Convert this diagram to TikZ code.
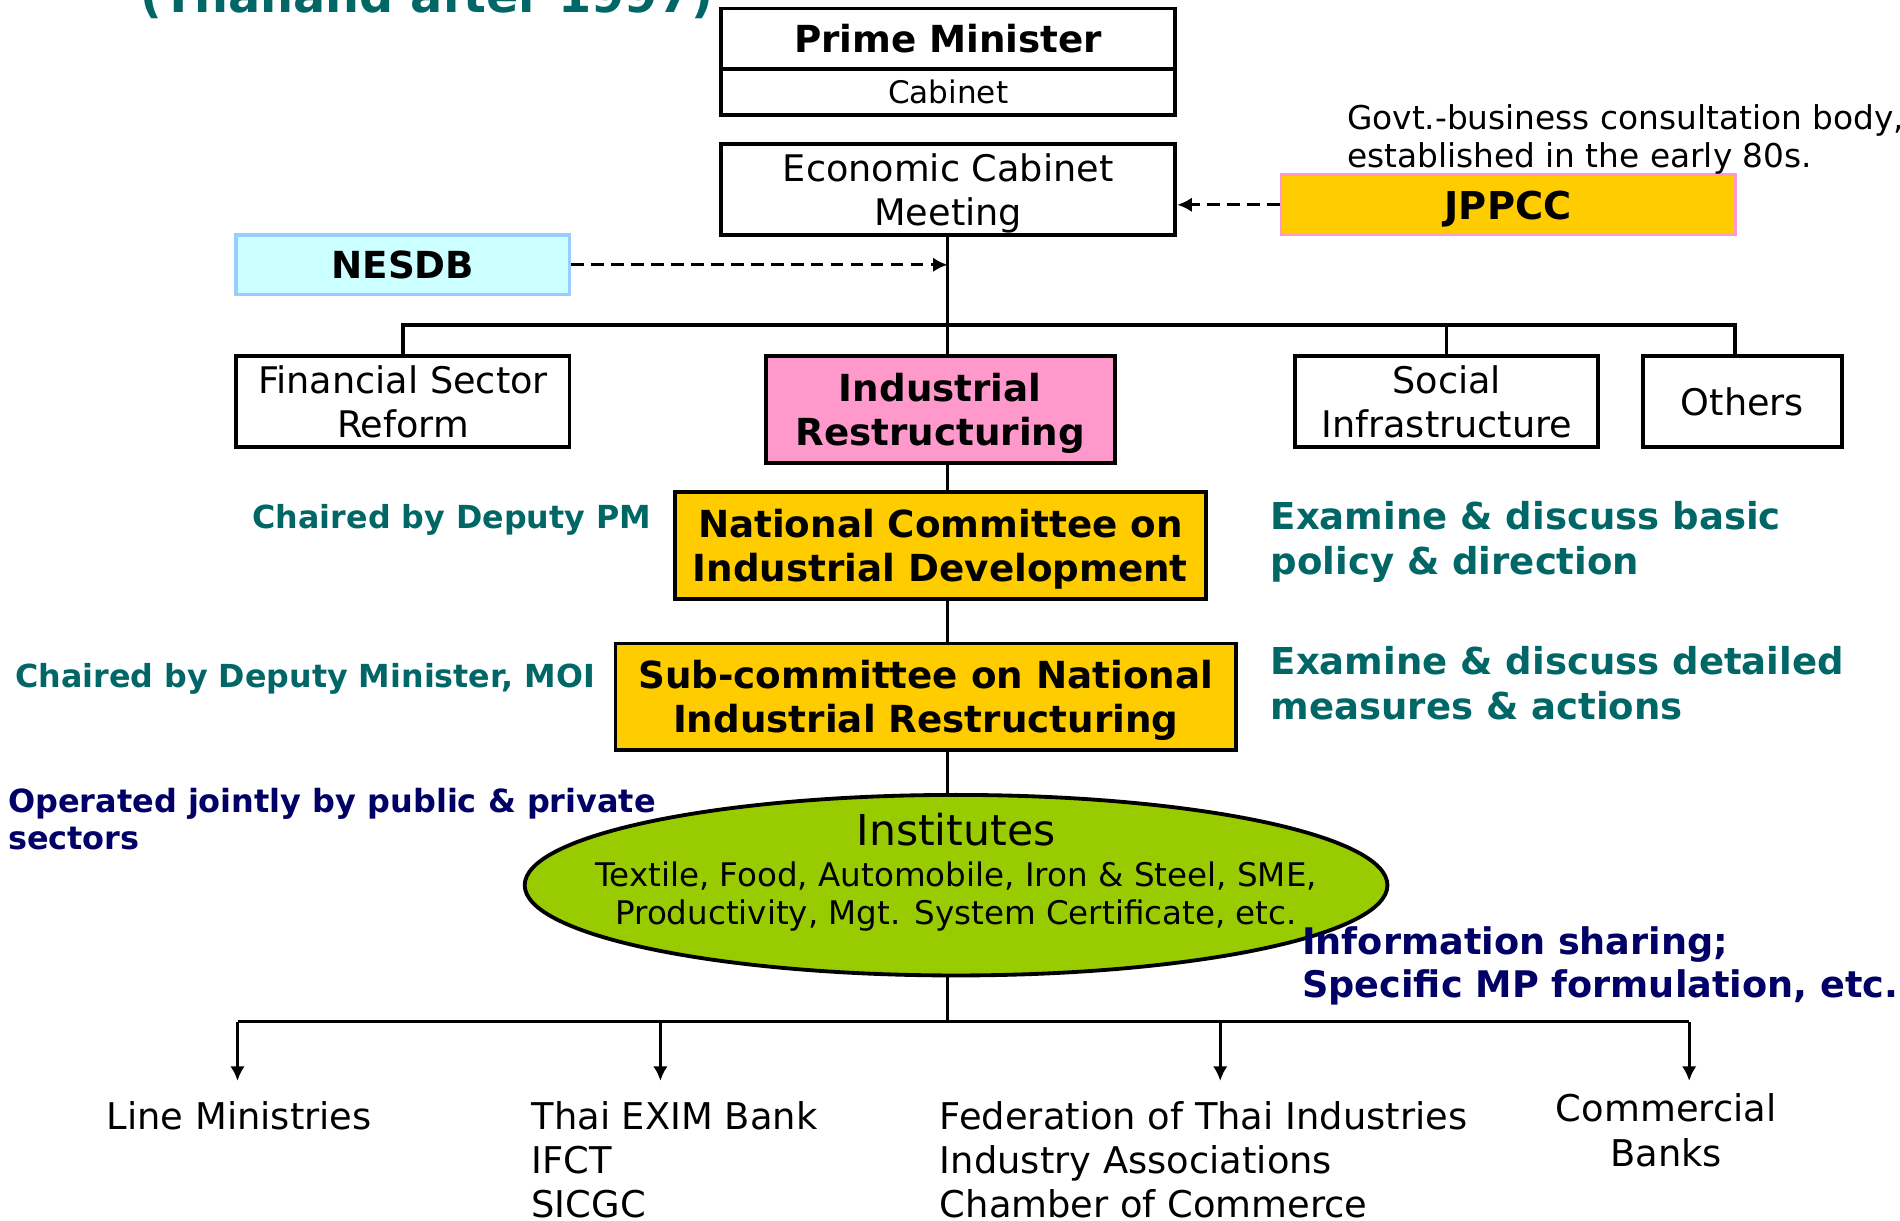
\documentclass[tikz,border=0pt]{standalone}
\usepackage{fontspec}
\setmainfont{DejaVu Sans}
\usetikzlibrary{shapes.geometric,arrows.meta}

\definecolor{labelteal}{RGB}{0,102,102}
\definecolor{labelnavy}{RGB}{0,0,102}
\definecolor{boxyellow}{RGB}{255,204,0}
\definecolor{boxpink}{RGB}{255,153,204}
\definecolor{nesdbcyan}{RGB}{204,255,255}
\definecolor{nesdbblue}{RGB}{153,204,255}
\definecolor{instgreen}{RGB}{153,204,0}

\begin{document}
\begin{tikzpicture}[
  box/.style={draw, line width=0.9pt, align=center, inner sep=0pt, text depth=0pt, font=\fontsize{8.6}{10.5}\selectfont},
  boldbox/.style={box, font=\fontsize{8.75}{10.3}\selectfont\bfseries},
  teallabel/.style={inner sep=0pt, align=left, text=labelteal, font=\fontsize{8.7}{10.5}\selectfont\bfseries},
  chairlabel/.style={inner sep=0pt, align=left, text=labelteal, font=\fontsize{7.45}{9}\selectfont\bfseries},
  navylabel/.style={inner sep=0pt, align=left, text=labelnavy, font=\fontsize{7.5}{8.8}\selectfont\bfseries},
  leaf/.style={inner xsep=0pt, inner ysep=0.16cm, align=left, font=\fontsize{8.65}{10.4}\selectfont},
  tree/.style={line width=0.7pt},
  treebar/.style={line width=0.9pt},
  dasharrow/.style={line width=0.7pt, dash pattern=on 0.10cm off 0.065cm, -{Latex[length=0.12cm, width=0.12cm]}},
  leafarrow/.style={line width=0.7pt, -{Latex[length=0.12cm, width=0.12cm]}}
]
% Page size and title (cut at the top edge)
\path[use as bounding box, fill=white] (0, 0) rectangle (15.68, -10.07);
\clip (0, 0) rectangle (15.68, -10.07);
\node[anchor=base west, inner sep=0pt, text=labelteal, font=\fontsize{11.2}{13}\selectfont\bfseries] (title) at (1.15, -0.10) {(Thailand after 1997)};

% Top of the tree
\node[boldbox, minimum width=3.75cm, minimum height=0.50cm] (pm) at (7.825, -0.32) {Prime Minister};
\node[box, minimum width=3.75cm, minimum height=0.38cm, font=\fontsize{7.3}{9}\selectfont] (cab) at (7.825, -0.76) {Cabinet};
\node[box, minimum width=3.75cm, minimum height=0.75cm] (ecm) at (7.825, -1.565) {Economic Cabinet\\Meeting};
\node[boldbox, minimum width=2.75cm, minimum height=0.49cm, fill=nesdbcyan, draw=nesdbblue] (nesdb) at (3.325, -2.185) {NESDB};
\node[boldbox, minimum width=3.75cm, minimum height=0.50cm, fill=boxyellow, draw=boxpink, line width=0.6pt, font=\fontsize{9}{11}\selectfont\bfseries] (jppcc) at (12.445, -1.69) {JPPCC};
\node[anchor=west, inner sep=0pt, align=left, font=\fontsize{7.7}{8.8}\selectfont] (note) at (11.11, -1.15) {Govt.-business consultation body,\\established in the early 80s.};

% Working groups
\node[box, minimum width=2.75cm, minimum height=0.75cm] (fin) at (3.325, -3.315) {Financial Sector\\Reform};
\node[boldbox, minimum width=2.88cm, minimum height=0.88cm, fill=boxpink] (ir) at (7.76, -3.38) {Industrial\\Restructuring};
\node[box, minimum width=2.50cm, minimum height=0.75cm] (soc) at (11.94, -3.315) {Social\\Infrastructure};
\node[box, minimum width=1.64cm, minimum height=0.75cm] (oth) at (14.38, -3.315) {Others};

% Committees and institutes
\node[boldbox, minimum width=4.38cm, minimum height=0.88cm, fill=boxyellow] (ncid) at (7.76, -4.50) {National Committee on\\Industrial Development};
\node[boldbox, minimum width=5.12cm, minimum height=0.88cm, fill=boxyellow] (sc) at (7.64, -5.75) {Sub-committee on National\\Industrial Restructuring};
\node[draw, ellipse, line width=0.9pt, fill=instgreen, minimum width=7.12cm, minimum height=1.49cm, inner sep=0pt] (inst) at (7.89, -7.305) {};
\node[align=center, inner sep=0pt, font=\fontsize{7.64}{8.8}\selectfont] (insttext) at (7.89, -7.195) {{\fontsize{10}{12}\selectfont Institutes}\\[0.9pt]Textile, Food, Automobile, Iron \& Steel, SME,\\Productivity, Mgt. System Certificate, etc.};

% Side labels
\node[chairlabel, anchor=east] (chairpm) at (5.38, -4.29) {Chaired by Deputy PM};
\node[chairlabel, anchor=west] (chairmoi) at (0.12, -5.60) {Chaired by Deputy Minister, MOI};
\node[teallabel, anchor=west] (exbasic) at (10.48, -4.47) {Examine \& discuss basic\\policy \& direction};
\node[teallabel, anchor=west] (exdetail) at (10.48, -5.64) {Examine \& discuss detailed\\measures \& actions};
\node[navylabel, anchor=west] (operated) at (0.06, -6.76) {Operated jointly by public \& private\\sectors};
\node[navylabel, anchor=west, font=\fontsize{8.6}{10.2}\selectfont\bfseries] (infoshare) at (10.74, -7.97) {Information sharing;\\Specific MP formulation, etc.};

% Bottom row
\node[leaf, anchor=north] (lines) at (1.975, -8.92) {Line Ministries};
\node[leaf, anchor=north west] (exim) at (4.38, -8.92) {Thai EXIM Bank\\IFCT\\SICGC};
\node[leaf, anchor=north west] (fti) at (7.75, -8.92) {Federation of Thai Industries\\Industry Associations\\Chamber of Commerce};
\node[leaf, anchor=north, align=center, inner ysep=0.10cm] (banks) at (13.75, -8.92) {Commercial\\Banks};

% Connectors
\coordinate (spine) at (7.82, 0);
\coordinate (topbar) at (0, -2.68);
\coordinate (othdrop) at (14.32, -2.68);
\coordinate (l1) at (1.96, -8.43);
\coordinate (l2) at (5.45, -8.43);
\coordinate (l3) at (10.07, -8.43);
\coordinate (l4) at (13.94, -8.43);
\draw[tree] (ecm.south -| spine) -- (ir.north -| spine);
\draw[treebar] (fin.north) |- (othdrop) -- (othdrop |- oth.north);
\draw[tree] (soc.north) -- (soc.north |- topbar);
\draw[tree] (ir.south -| spine) -- (ncid.north -| spine);
\draw[tree] (ncid.south -| spine) -- (sc.north -| spine);
\draw[tree] (sc.south -| spine) -- (inst.north -| spine);
\draw[tree] (inst.south -| spine) -- (l1 -| spine);
\draw[treebar] (l1) -- (l4);
\draw[leafarrow] (l1) -- (l1 |- lines.north);
\draw[leafarrow] (l2) -- (l2 |- exim.north);
\draw[leafarrow] (l3) -- (l3 |- fti.north);
\draw[leafarrow] (l4) -- (l4 |- banks.north);
\draw[dasharrow] (nesdb.east) -- (nesdb.east -| spine);
\draw[dasharrow] (jppcc.west) -- (jppcc.west -| ecm.east);
\end{tikzpicture}
\end{document}
